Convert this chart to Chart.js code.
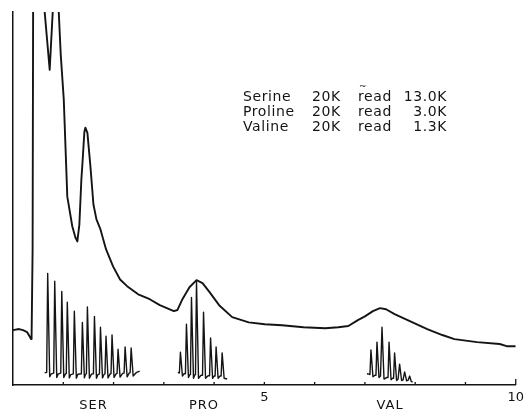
<!DOCTYPE html>
<html>
<head>
<meta charset="utf-8">
<script src="https://cdn.jsdelivr.net/npm/chart.js@4"></script>
<style>
  html, body { margin: 0; padding: 0; background: #fff; }
  #wrap { width: 529px; height: 409px; }
</style>
</head>
<body>
<div id="wrap"><canvas id="chart"></canvas></div>
<script>
// detector trace (time in min, signal in % full scale)
const traceTime = [0, 0.12, 0.20, 0.28, 0.34, 0.36, 0.37, 0.39, 0.40, 0.47, 0.55, 0.63, 0.73, 0.79, 0.83, 0.87,
  0.91, 0.95, 1.01, 1.08, 1.18, 1.24, 1.28, 1.32, 1.36, 1.38, 1.42, 1.44, 1.48, 1.54, 1.60, 1.66, 1.74, 1.85,
  1.99, 2.13, 2.27, 2.49, 2.72, 2.92, 3.06, 3.20, 3.27, 3.37, 3.51, 3.65, 3.77, 3.91, 4.10, 4.36, 4.69, 5.01,
  5.35, 5.78, 6.21, 6.47, 6.67, 6.86, 7.00, 7.16, 7.30, 7.42, 7.59, 7.85, 8.24, 8.54, 8.78, 9.23, 9.68, 9.82, 10.0];
const traceSignal = [14.7, 15.0, 14.7, 14.2, 12.8, 12.3, 13.1, 36.4, 100, 156, 156, 100, 84.5, 100, 130, 130,
  100, 88.5, 76.5, 50.5, 42.5, 39.6, 38.5, 43.0, 55.1, 59.1, 67.9, 69.0, 67.6, 58.6, 48.4, 44.4, 41.7, 36.4,
  31.8, 28.3, 26.5, 24.3, 23.0, 21.4, 20.6, 19.8, 20.1, 23.0, 26.2, 28.1, 27.3, 24.9, 21.4, 18.2, 16.8, 16.3,
  16.0, 15.5, 15.2, 15.5, 15.8, 17.4, 18.4, 19.8, 20.6, 20.3, 19.0, 17.4, 15.0, 13.4, 12.3, 11.5, 11.0, 10.4, 10.4];

// repeated injections, expanded scale
const serTime = [0.63, 0.67, 0.69, 0.73, 0.76, 0.81, 0.83, 0.87, 0.90, 0.95, 0.97, 1.01, 1.04, 1.06, 1.08, 1.12,
  1.15, 1.20, 1.22, 1.26, 1.29, 1.36, 1.38, 1.42, 1.44, 1.46, 1.48, 1.52, 1.56, 1.60, 1.62, 1.66, 1.69, 1.72,
  1.74, 1.78, 1.81, 1.83, 1.85, 1.89, 1.93, 1.95, 1.97, 2.01, 2.05, 2.07, 2.09, 2.13, 2.18, 2.21, 2.23, 2.27,
  2.31, 2.33, 2.35, 2.39, 2.45, 2.52];
const serSignal = [3.3, 3.4, 29.9, 2.2, 3.0, 3.2, 27.8, 2.0, 3.0, 3.2, 25.1, 2.0, 2.9, 3.1, 22.2, 1.9,
  2.8, 3.0, 19.8, 1.8, 2.9, 3.0, 16.8, 1.9, 2.8, 3.0, 20.9, 1.8, 2.9, 3.0, 18.4, 1.8, 2.8, 3.0,
  15.5, 1.9, 2.8, 3.0, 13.1, 1.9, 2.9, 3.1, 13.4, 2.0, 3.0, 3.1, 9.6, 2.1, 3.1, 3.2, 10.2, 2.2,
  3.2, 3.3, 9.9, 2.4, 3.3, 3.7];

const proTime = [3.28, 3.31, 3.33, 3.37, 3.40, 3.43, 3.45, 3.49, 3.52, 3.53, 3.55, 3.59, 3.62, 3.63, 3.65, 3.69,
  3.74, 3.77, 3.79, 3.83, 3.88, 3.91, 3.93, 3.97, 4.00, 4.02, 4.04, 4.08, 4.12, 4.14, 4.16, 4.20, 4.26];
const proSignal = [3.4, 3.2, 8.8, 2.4, 3.0, 3.0, 16.3, 2.0, 2.8, 2.8, 23.5, 1.8, 2.8, 2.8, 27.8, 1.8,
  2.6, 2.6, 19.5, 1.8, 2.5, 2.5, 12.6, 1.8, 2.4, 2.4, 10.2, 1.8, 2.4, 2.4, 8.6, 1.8, 1.6];

const valTime = [7.04, 7.08, 7.10, 7.12, 7.16, 7.20, 7.22, 7.24, 7.28, 7.31, 7.32, 7.34, 7.38, 7.43, 7.46, 7.48,
  7.52, 7.55, 7.57, 7.59, 7.63, 7.66, 7.67, 7.69, 7.73, 7.76, 7.77, 7.79, 7.83, 7.86, 7.87, 7.89, 7.92, 7.95];
const valSignal = [3.0, 2.9, 2.8, 9.4, 2.2, 2.6, 2.6, 11.5, 2.0, 2.4, 2.4, 15.5, 1.6, 2.0, 2.0, 11.5,
  1.4, 1.8, 1.8, 8.6, 1.2, 1.6, 1.6, 5.6, 1.2, 1.4, 1.4, 3.5, 1.1, 1.3, 1.3, 2.4, 1.0, 0.8];

const regionNames = ["SER", "PRO", "VAL"];
const regionTimes = [1.6, 3.8, 7.5];
const labeledTicks = [5, 10];
const noteRows = [
  ["Serine", "20K", "read", "13.0K"],
  ["Proline", "20K", "read", "3.0K"],
  ["Valine", "20K", "read", "1.3K"]
];

const ink = "#141414";
const fontFamily = "'DejaVu Sans', sans-serif";

function points(xs, ys) {
  return xs.map((x, i) => ({ x, y: ys[i] }));
}

const annotate = {
  id: "annotate",
  afterDraw(chart) {
    const { ctx, chartArea, scales: { x } } = chart;
    ctx.save();
    ctx.strokeStyle = ink;
    ctx.lineWidth = 1.3;
    for (let t = 1; t <= 10; t++) {
      const px = x.getPixelForValue(t);
      const len = t === 10 ? 6 : 3;
      ctx.beginPath();
      ctx.moveTo(px, chartArea.bottom);
      ctx.lineTo(px, chartArea.bottom - len);
      ctx.stroke();
    }

    ctx.fillStyle = ink;
    ctx.font = "13px " + fontFamily;
    ctx.letterSpacing = "1px";
    ctx.textAlign = "center";
    ctx.textBaseline = "alphabetic";
    regionNames.forEach((name, i) => {
      ctx.fillText(name, x.getPixelForValue(regionTimes[i]), 408.5);
    });

    ctx.font = "14px " + fontFamily;
    ctx.letterSpacing = "0.6px";
    const cols = [243, 312, 358];
    const rightEdge = 447;
    const rowY = [101, 116, 131];
    noteRows.forEach((row, r) => {
      ctx.textAlign = "left";
      for (let c = 0; c < 3; c++) ctx.fillText(row[c], cols[c], rowY[r]);
      ctx.textAlign = "right";
      ctx.fillText(row[3], rightEdge, rowY[r]);
    });
    ctx.font = "9px " + fontFamily;
    ctx.letterSpacing = "0px";
    ctx.textAlign = "left";
    ctx.fillText("~", 359, 89);
    ctx.restore();
  }
};

const ctx = document.getElementById("chart").getContext("2d");
new Chart(ctx, {
  type: "line",
  data: {
    datasets: [
      { data: points(traceTime, traceSignal), borderWidth: 1.9 },
      { data: points(serTime, serSignal), borderWidth: 1.4 },
      { data: points(proTime, proSignal), borderWidth: 1.4 },
      { data: points(valTime, valSignal), borderWidth: 1.4 }
    ].map((d) => ({ borderColor: ink, borderJoinStyle: "round", pointRadius: 0, tension: 0, fill: false, ...d }))
  },
  options: {
    responsive: true,
    maintainAspectRatio: false,
    animation: false,
    devicePixelRatio: 1,
    layout: { padding: { top: 12, right: 12, left: 0, bottom: 0 } },
    plugins: { legend: { display: false }, tooltip: { enabled: false } },
    scales: {
      x: {
        type: "linear",
        min: 0,
        max: 10,
        grid: { display: false, drawTicks: false },
        border: { color: ink, width: 1.5 },
        ticks: {
          stepSize: 1,
          autoSkip: false,
          maxRotation: 0,
          padding: 5,
          color: ink,
          font: { size: 13, family: fontFamily },
          callback: (v) => (labeledTicks.includes(v) ? String(v) : "")
        },
        afterFit: (s) => { s.height = 24; }
      },
      y: {
        min: 0,
        max: 100,
        grid: { display: false, drawTicks: false },
        border: { color: ink, width: 1.5 },
        ticks: { display: false },
        afterFit: (s) => { s.width = 13; }
      }
    }
  },
  plugins: [annotate]
});
</script>
</body>
</html>
